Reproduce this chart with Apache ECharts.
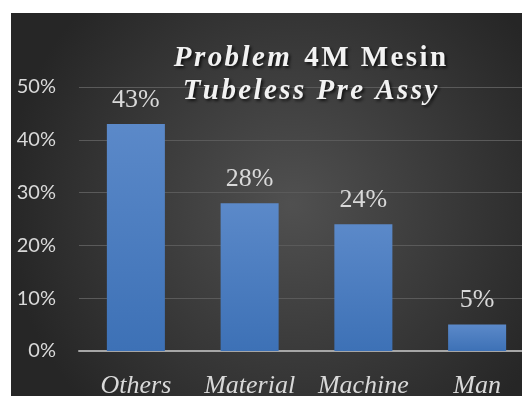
<!DOCTYPE html>
<html>
<head>
<meta charset="utf-8">
<script src="https://cdn.jsdelivr.net/npm/echarts@6/dist/echarts.min.js"></script>
<style>
  html, body { margin: 0; padding: 0; background: #fff; }
  #chart { position: absolute; left: 11px; top: 13px; width: 511px; height: 383px; }
</style>
</head>
<body>
<div id="chart"></div>
<script>
// chart data
var categories = ['Others', 'Material', 'Machine', 'Man']
var values = [43, 28, 24, 5]
var yTicks = [0, 10, 20, 30, 40, 50]
var titleLine1a = 'Problem'
var titleLine1b = '4M Mesin'
var titleLine2 = 'Tubeless Pre Assy'

var labelGrey = '#d9d9d9'
var serif = "'Liberation Serif', 'Times New Roman', serif"

// the title is set with wide tracking, hair spaces between letters
function spaced (s) {
  return s.split('').join('\u200A')
}

var titleShadow = {
  fontFamily: serif, fontSize: 29, fontWeight: 'bold',
  color: '#f2f2f2', lineHeight: 33,
  textShadowColor: 'rgba(0,0,0,0.7)', textShadowBlur: 3, textShadowOffsetX: 2, textShadowOffsetY: 2
}

var myChart = echarts.init(document.getElementById('chart'))
myChart.setOption({
  animation: false,
  backgroundColor: {
    type: 'radial', x: 0.55, y: 0.5, r: 0.75,
    colorStops: [
      { offset: 0, color: '#505050' },
      { offset: 1, color: '#262626' }
    ]
  },
  title: {
    left: 294,
    top: 24,
    textAlign: 'center',
    text: '{i|' + spaced(titleLine1a) + '}{b|\u00A0 ' + spaced(titleLine1b) + '}\n{i|' + spaced(titleLine2) + '}',
    textStyle: {
      rich: {
        i: Object.assign({}, titleShadow, { fontStyle: 'italic' }),
        b: Object.assign({}, titleShadow)
      }
    }
  },
  grid: { left: 68, top: 74, width: 455, height: 264, outerBoundsMode: 'none' },
  xAxis: {
    type: 'category',
    data: categories,
    axisTick: { show: false },
    axisLine: { lineStyle: { color: '#a6a6a6', width: 2 } },
    axisLabel: {
      margin: 22,
      color: labelGrey,
      fontFamily: serif,
      fontStyle: 'italic',
      fontSize: 26,
      interval: 0
    }
  },
  yAxis: {
    type: 'value',
    min: yTicks[0],
    max: yTicks[yTicks.length - 1],
    interval: 10,
    axisLine: { show: false },
    axisTick: { show: false },
    splitLine: { lineStyle: { color: '#5a5a5a', width: 1 } },
    axisLabel: {
      margin: 23,
      color: labelGrey,
      fontFamily: 'Lato, sans-serif',
      fontSize: 20,
      formatter: '{value}%'
    }
  },
  series: [
    {
      type: 'bar',
      data: values,
      barCategoryGap: '49%',
      itemStyle: {
        color: {
          type: 'linear', x: 0, y: 0, x2: 0, y2: 1,
          colorStops: [
            { offset: 0, color: '#5b89c9' },
            { offset: 1, color: '#3d71b6' }
          ]
        }
      },
      label: {
        show: true,
        position: 'top',
        distance: 11,
        color: labelGrey,
        fontFamily: serif,
        fontSize: 26,
        formatter: '{c}%'
      }
    }
  ]
})
</script>
</body>
</html>
